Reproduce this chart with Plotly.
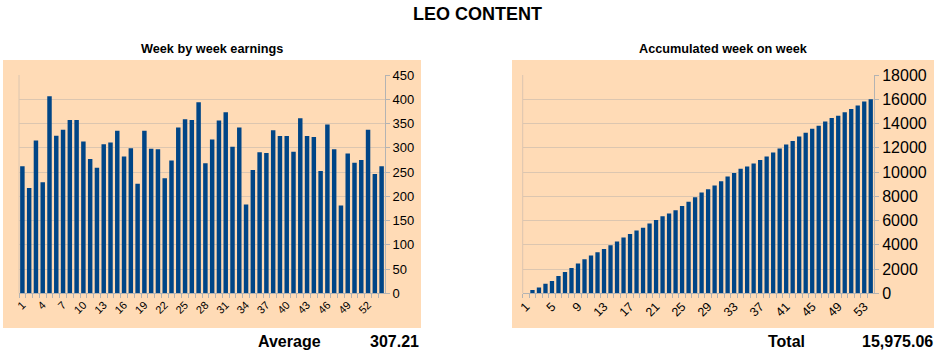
import plotly.graph_objects as go

weeks = [str(i) for i in range(1, 55)]
weekly_earnings = [262, 217, 315, 229, 406, 325, 337, 357, 357, 313,
                   277, 259, 307, 311, 335, 282, 299, 226, 335, 298,
                   297, 237, 274, 342, 359, 357, 394, 268, 317, 356,
                   373, 302, 342, 183, 254, 291, 289, 336, 324, 324,
                   292, 361, 324, 322, 252, 348, 297, 181, 288, 269,
                   275, 337, 246, 262]
accumulated = [None, 262, 479, 794, 1023, 1429, 1754, 2091, 2448, 2805,
               3118, 3395, 3654, 3961, 4272, 4607, 4889, 5188, 5414, 5749,
               6047, 6344, 6581, 6855, 7197, 7556, 7913, 8307, 8575, 8892,
               9248, 9621, 9923, 10265, 10448, 10702, 10993, 11282, 11618, 11942,
               12266, 12558, 12919, 13243, 13565, 13817, 14165, 14462, 14643, 14931,
               15200, 15475, 15812, 16000]
left_ticktext = [w if (int(w) - 1) % 3 == 0 else "" for w in weeks]
right_ticktext = [w if (int(w) - 1) % 4 == 0 else "" for w in weeks]
left_yticks = list(range(0, 451, 50))
right_yticks = list(range(0, 18001, 2000))

W, H = 939, 352
PEACH = "#ffdbb6"
GRID = "#dcc6b0"
AXIS = "#b3b3b3"
BAR = "#004586"
FONT = "Liberation Sans, Arial, sans-serif"

def px(x):
    return x / W

def py(y):
    return (H - y) / H

fig = go.Figure()
fig.add_trace(go.Bar(x=weeks, y=weekly_earnings, marker_color=BAR, marker_line_width=0,
                     xaxis="x", yaxis="y", showlegend=False))
fig.add_trace(go.Bar(x=weeks, y=accumulated, marker_color=BAR, marker_line_width=0,
                     xaxis="x2", yaxis="y2", showlegend=False))

n = len(weeks)
common_x = dict(type="category", categoryorder="array", categoryarray=weeks,
                range=[-0.5, n - 0.5], tickmode="array", tickvals=weeks,
                tickangle=-45, tickson="boundaries", ticks="outside", ticklen=4,
                tickcolor=AXIS, showgrid=False, showline=True, linecolor=AXIS,
                linewidth=1, zeroline=False, fixedrange=True, automargin=False)
common_y = dict(side="right", tickmode="array", ticks="outside", ticklen=4,
                tickcolor=AXIS, showgrid=True, gridcolor=GRID, gridwidth=1,
                showline=True, linecolor=AXIS, zeroline=False, tickformat="d",
                fixedrange=True, automargin=False)

fig.update_layout(
    width=W, height=H, margin=dict(l=0, r=0, t=0, b=0, autoexpand=False),
    paper_bgcolor="white", plot_bgcolor="rgba(0,0,0,0)",
    bargap=0.34, font=dict(family=FONT, color="#000000"),
    xaxis=dict(common_x, domain=[px(19), px(385)], anchor="y", ticktext=left_ticktext,
               tickfont=dict(size=11, color="#000")),
    yaxis=dict(common_y, domain=[py(293.3), py(75)], anchor="x", range=[0, 450],
               tickvals=left_yticks, tickfont=dict(size=13, color="#000")),
    xaxis2=dict(common_x, domain=[px(522.7), px(874)], anchor="y2", ticktext=right_ticktext,
                tickfont=dict(size=12.5, color="#000")),
    yaxis2=dict(common_y, domain=[py(293.3), py(75)], anchor="x2", range=[0, 18000],
                tickvals=right_yticks, tickfont=dict(size=16, color="#000")),
)

# panel backgrounds
for x0, x1 in [(3, 421), (512, 934)]:
    fig.add_shape(type="rect", xref="paper", yref="paper", x0=px(x0), x1=px(x1),
                  y0=py(328), y1=py(60), fillcolor=PEACH, line_width=0, layer="below")
# plot area left borders
for x0 in [19, 522.7]:
    fig.add_shape(type="line", xref="paper", yref="paper", x0=px(x0), x1=px(x0),
                  y0=py(293.3), y1=py(75), line=dict(color=GRID, width=1), layer="below")

def ann(text, x, y, size, bold=False, xanchor="center"):
    fig.add_annotation(text=f"<b>{text}</b>" if bold else text, xref="paper", yref="paper",
                       x=px(x), y=py(y), xanchor=xanchor, yanchor="middle", showarrow=False,
                       font=dict(size=size, family=FONT, color="#000"))

ann("LEO CONTENT", 477, 14, 18, bold=True)
ann("Week by week earnings", 212, 49, 12.7, bold=True)
ann("Accumulated week on week", 723, 49, 12.7, bold=True)
ann("Average", 289, 341, 16, bold=True)
ann("307.21", 421, 341, 16, bold=True, xanchor="right")
ann("Total", 786, 341, 16, bold=True)
ann("15,975.06", 935, 341, 16, bold=True, xanchor="right")

fig.write_html("out.html")
